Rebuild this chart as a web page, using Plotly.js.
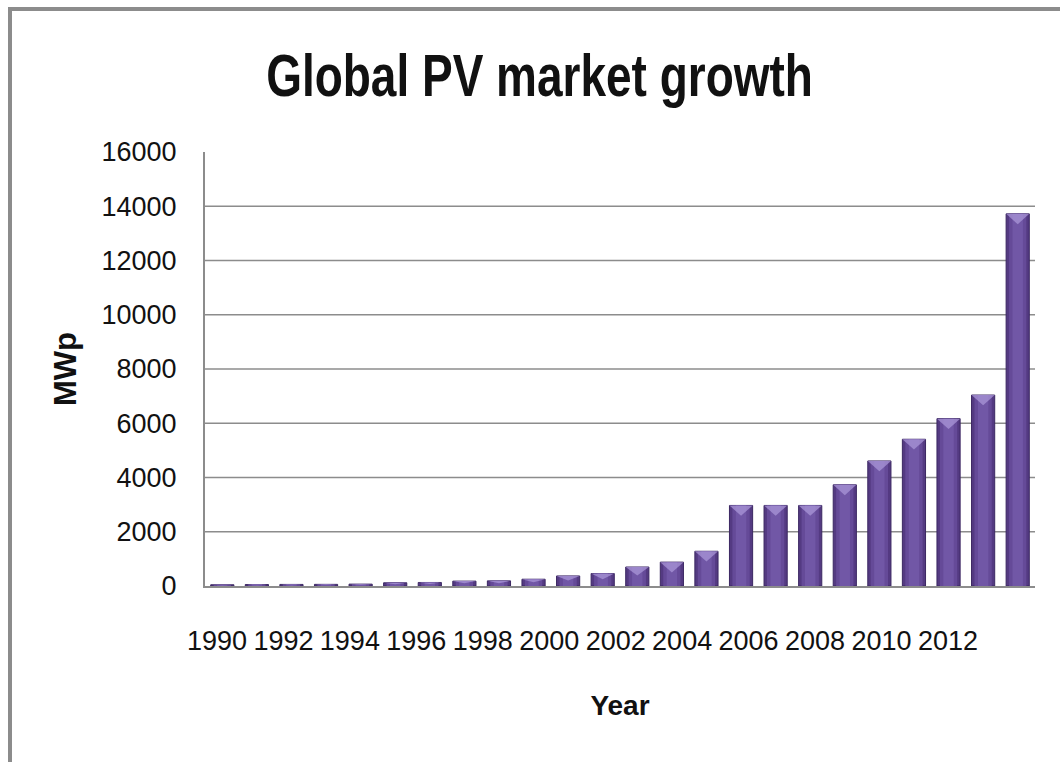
<!DOCTYPE html>
<html>
<head>
<meta charset="utf-8">
<script src="https://cdn.plot.ly/plotly-3.0.1.min.js"></script>
<style>
  html, body { margin: 0; padding: 0; background: #ffffff; }
  #wrap { position: relative; width: 1060px; height: 762px; overflow: hidden; }
  #chart { position: absolute; left: 0; top: 0; width: 1060px; height: 762px; }
  #frame { position: absolute; left: 8px; top: 7px; width: 1100px; height: 820px;
           border: 4px solid #8c8c8c; pointer-events: none; }
</style>
</head>
<body>
<div id="wrap">
  <div id="chart"></div>
  <div id="frame"></div>
</div>
<script>
// Annual PV installations, MWp
const years = [1990, 1991, 1992, 1993, 1994, 1995, 1996, 1997, 1998, 1999, 2000, 2001,
               2002, 2003, 2004, 2005, 2006, 2007, 2008, 2009, 2010, 2011, 2012, 2013];
const mwp = [46, 55, 58, 60, 69, 120, 130, 180, 190, 250, 370, 460,
             700, 880, 1280, 2970, 2970, 2970, 3730, 4610, 5410, 6170, 7040, 13720];
const yearTicks = [1990, 1992, 1994, 1996, 1998, 2000, 2002, 2004, 2006, 2008, 2010, 2012];
const yTicks = [0, 2000, 4000, 6000, 8000, 10000, 12000, 14000, 16000];
const gridTicks = yTicks.slice(1, -1);

const sans = '"Liberation Sans", Arial, sans-serif';
const tickFont = { family: sans, size: 27, color: '#111111' };

// bar body in three tones: dark rim, mid body, lighter core
const barBase = { type: 'bar', x: years, y: mwp, hoverinfo: 'skip', showlegend: false };
const barRim = Object.assign({}, barBase, {
  width: 0.67, marker: { color: '#543a82', line: { color: '#3b2762', width: 1 } }
});
const barBody = Object.assign({}, barBase, {
  width: 0.5, marker: { color: '#654a98', line: { width: 0 } }
});
const barCore = Object.assign({}, barBase, {
  width: 0.3, marker: { color: '#7157a6', line: { width: 0 } }
});

// carrier trace for the year-label axis
const labels = {
  type: 'scatter', mode: 'none', x: years, y: mwp,
  xaxis: 'x2', yaxis: 'y', hoverinfo: 'skip', showlegend: false
};

const gridShapes = gridTicks.map(v => ({
  type: 'line', xref: 'paper', yref: 'y', x0: 0, x1: 1, y0: v, y1: v,
  line: { color: '#8c8c8c', width: 1.5 }, layer: 'below'
}));

// light bevel wedge on top of each bar
const bevelShapes = years.map((yr, i) => {
  const v = mwp[i];
  const h = Math.min(380, v * 0.45);
  const hw = 0.335;
  return {
    type: 'path', xref: 'x', yref: 'y', layer: 'above',
    path: `M ${yr - hw},${v} L ${yr + hw},${v} L ${yr},${v - h} Z`,
    fillcolor: 'rgba(170,150,215,0.75)',
    line: { width: 0 }
  };
});

const layout = {
  width: 1060,
  height: 762,
  margin: { l: 205, r: 25, t: 152, b: 176 },
  paper_bgcolor: '#ffffff',
  plot_bgcolor: '#ffffff',
  showlegend: false,
  barmode: 'overlay',
  title: {
    text: '<b>Global PV market growth</b>',
    font: { family: sans, size: 46, color: '#111111' },
    x: 0.509, xanchor: 'center',
    y: 0.902, yanchor: 'middle', yref: 'container'
  },
  xaxis: {
    type: 'linear',
    range: [1989.5, 2013.5],
    showticklabels: false,
    showgrid: false,
    zeroline: false,
    showline: true,
    linecolor: '#8c8c8c',
    linewidth: 2,
    ticks: ''
  },
  xaxis2: {
    type: 'linear',
    overlaying: 'x',
    side: 'bottom',
    anchor: 'y',
    range: [1989.64, 2014.62],
    tickvals: yearTicks,
    ticktext: yearTicks.map(String),
    tickangle: 0,
    tickfont: tickFont,
    ticklabelstandoff: 36,
    showgrid: false,
    zeroline: false,
    showline: false,
    ticks: '',
    title: {
      text: '<b>Year</b>',
      font: { family: sans, size: 28, color: '#111111' },
      standoff: 40
    }
  },
  yaxis: {
    range: [0, 16000],
    tickvals: yTicks,
    ticktext: yTicks.map(String),
    tickfont: tickFont,
    ticklabelstandoff: 21,
    showgrid: false,
    zeroline: false,
    showline: true,
    linecolor: '#8c8c8c',
    linewidth: 2,
    ticks: '',
    title: {
      text: '<b>MWp</b>',
      font: { family: sans, size: 31, color: '#111111' },
      standoff: 16
    }
  },
  shapes: gridShapes.concat(bevelShapes)
};

Plotly.newPlot('chart', [barRim, barBody, barCore, labels], layout,
  { displayModeBar: false, staticPlot: true }).then(gd => {
  // tall, tight title lettering
  const t = gd.querySelector('.gtitle');
  if (t) {
    const b = t.getBBox();
    const cx = b.x + b.width / 2, cy = b.y + b.height / 2;
    t.setAttribute('transform', `translate(${cx},${cy}) scale(1,1.3) translate(${-cx},${-cy})`);
  }
});
</script>
</body>
</html>
